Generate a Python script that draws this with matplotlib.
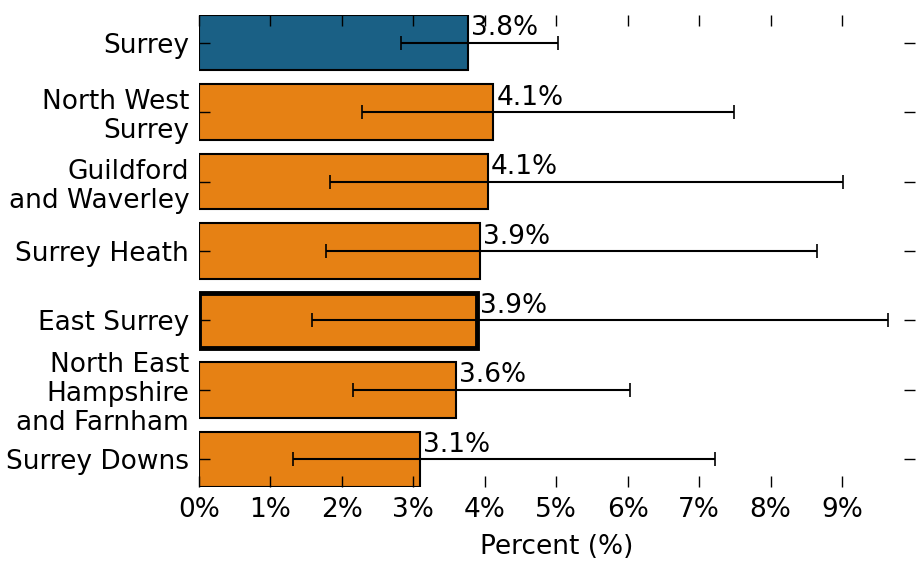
import matplotlib
matplotlib.use("Agg")
import matplotlib.pyplot as plt
import numpy as np
from matplotlib.ticker import FuncFormatter

# values
areas = ['Surrey', 'North West\nSurrey', 'Guildford\nand Waverley', 'Surrey Heath',
         'East Surrey', 'North East\nHampshire\nand Farnham', 'Surrey Downs']
pct = [3.77, 4.12, 4.04, 3.93, 3.89, 3.60, 3.09]
lower = [2.83, 2.28, 1.83, 1.78, 1.58, 2.16, 1.32]
upper = [5.03, 7.49, 9.01, 8.65, 9.64, 6.03, 7.22]
labels = ['3.8%', '4.1%', '4.1%', '3.9%', '3.9%', '3.6%', '3.1%']

BLUE = '#1a6085'
ORANGE = '#e68114'
FS = 19

fig = plt.figure(figsize=(9.21, 5.73), dpi=100)
ax = fig.add_axes([0.216, 0.150, 0.7775, 0.824])

y = np.arange(len(areas))
colors = [BLUE] + [ORANGE] * (len(areas) - 1)
widths = [1.5] * len(areas)
widths[4] = 3.5
ax.barh(y, pct, height=0.8, color=colors, edgecolor='black', linewidth=widths)

xerr = [np.array(pct) - np.array(lower), np.array(upper) - np.array(pct)]
ax.errorbar(pct, y, xerr=xerr, fmt='none', ecolor='black', elinewidth=1.5,
            capsize=5, capthick=1.2)

# value labels sit just right of the bar end, above the centre line
for yy, v, lab in zip(y, pct, labels):
    ax.text(v + 0.04, yy - 0.02, lab, ha='left', va='bottom', fontsize=FS)

ax.set_yticks(y)
ax.set_yticklabels(areas, fontsize=FS, linespacing=1.15)
ax.set_ylim(len(areas) - 0.6, -0.4)
ax.set_xlim(0, 10.02)
ax.set_xticks(np.arange(0, 10))
ax.xaxis.set_major_formatter(FuncFormatter(lambda v, p: f'{int(v)}%'))
ax.tick_params(axis='x', labelsize=FS)
ax.tick_params(direction='in', top=True, right=True, length=8, width=1, pad=7)
for s in ax.spines.values():
    s.set_visible(False)
ax.set_xlabel('Percent (%)', fontsize=FS, labelpad=8)

fig.savefig('out.png', dpi=100)
